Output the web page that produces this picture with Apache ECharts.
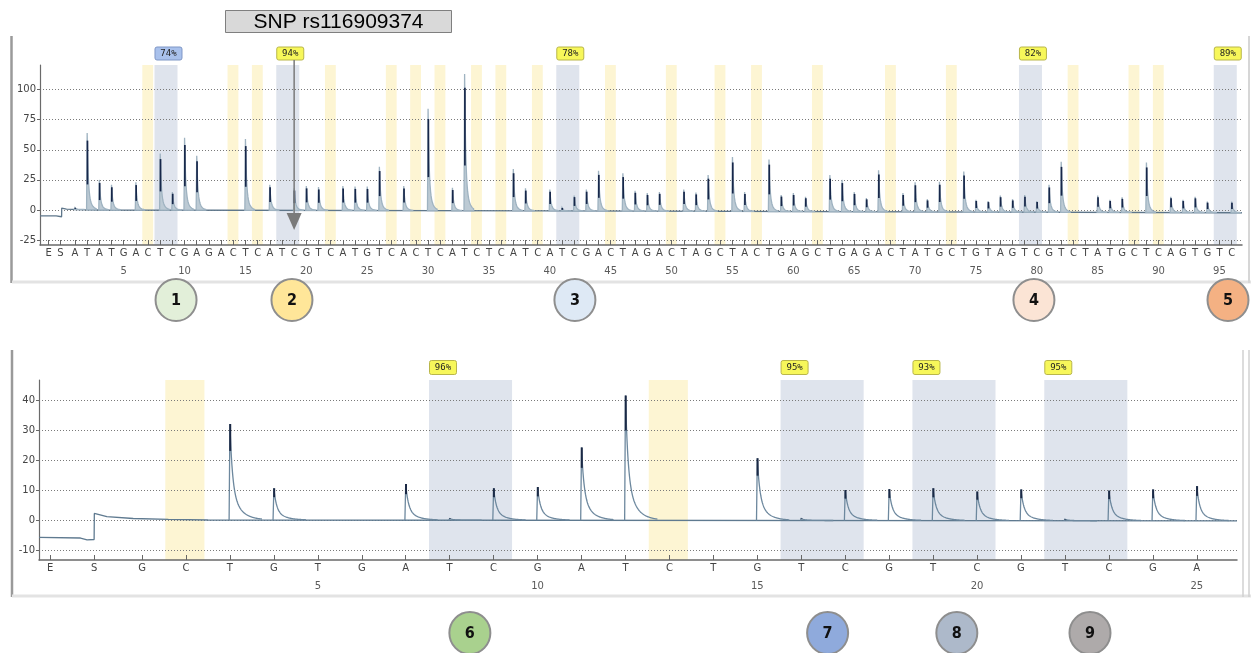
<!DOCTYPE html>
<html><head><meta charset="utf-8">
<script src="https://cdn.jsdelivr.net/npm/echarts@6/dist/echarts.min.js"></script>
<style>html,body{margin:0;padding:0;background:#fff}#c{width:1253px;height:653px}</style>
</head><body><div id="c"></div>
<script>
// ================= DATA =================
const snpTitle = 'SNP rs116909374';

// ---- top pyrogram ----
const topLetters = ['E','S',
 'A','T','A','T','G','A','C','T','C','G',
 'A','G','A','C','T','C','A','T','C','G',
 'T','C','A','T','G','T','C','A','C','T',
 'C','A','T','C','T','C','A','T','C','A',
 'T','C','G','A','C','T','A','G','A','C',
 'T','A','G','C','T','A','C','T','G','A',
 'G','C','T','G','A','G','A','C','T','A',
 'T','G','C','T','G','T','A','G','T','C',
 'G','T','C','T','A','T','G','C','T','C',
 'A','G','T','G','T','C'];
const topLeadPos = [-1.17, -0.2];          // axis positions of E and S
const topHeights = [
 2,64,25,21,0,23,0,47,15,60,
 45,0,0,0,59,0,21,0,18,20,
 19,0,20,19.5,19.5,36,0,20,0,84,
 0,18.5,113,0,0,0,34,18,0,17,
 2,12,17,32.5,0,30.5,16,14,15,0,
 17,14.5,29,0,44,15,0,42,12.5,14,
 11,0,29,25,15,10,33,0,14,23,
 9,23.5,0,32,8.5,7.5,12,9,12.5,7.5,
 21,40,0,0,12,8.5,10.5,0,39.5,0,
 11,8.5,11,7,0,7];
const topYellow = [7,14,16,22,27,29,31,34,36,39,45,50,54,57,62,68,73,83,88,90];
const topPairs = [[8,9],[18,19],[41,42],[79,80],[95,96]];
const topPairLabels = ['74%','94%','78%','82%','89%'];
const topPairTagKinds = ['blue','yellow','yellow','yellow','yellow'];
const topBaseline = [[-1.874,-4.8],[-0.55,-4.8],[-0.5,-5.6],[-0.1,-5.6],[-0.09,1.6],[0.3,0.7],[1.3,0.3],[3,0],[40,-0.8],[96.85,-2.3]];
const topYTicks = [-25,0,25,50,75,100];
const topXRange = [-1.874, 96.85];
const topYRange = [-29.07, 120.43];
const topArrowPos = 19;
const topArrowTip = -16.6;
const topCalloutNums = ['1','2','3','4','5'];
const topCalloutPos = [9.3,18.82,42.06,79.76,95.7];
const topCalloutColors = ['#e2efd9','#ffe699','#dee9f5','#fbe4d5','#f4b183'];

// ---- bottom pyrogram ----
const botLetters = ['E','S','G','C','T','G','T','G','A','T','C','G','A','T','C','T','G','T','C','G','T','C','G','T','C','G','A'];
const botLeadPos = [-1.09, -0.09];
const botHeights = [0,0,32,10.6,0,0,12,0.5,10.6,11, 24.2,41.5,0,0,20.6,0.5,10,10.3,10.6,9.5, 10.2,0.3,9.8,10.2,11.3];
const botYellow = [2,13];
const botPairs = [[8,9],[16,17],[19,20],[22,23]];
const botPairLabels = ['96%','95%','93%','95%'];
const botPairTagKinds = ['yellow','yellow','yellow','yellow'];
const botBaseline = [[-1.344,-5.8],[-0.4,-6.0],[-0.25,-6.6],[-0.09,-6.5],[-0.085,2.2],[0.2,1.1],[0.8,0.5],[1.6,0.2],[2.5,0],[25.915,-0.3]];
const botYTicks = [-10,0,10,20,30,40];
const botXRange = [-1.344, 25.915];
const botYRange = [-13.33, 46.67];
const botCalloutNums = ['6','7','8','9'];
const botCalloutPos = [8.46,16.6,19.54,22.57];
const botCalloutColors = ['#a9d18e','#8faadc','#adb9ca','#aeaaaa'];

// ================= HELPERS =================
const FONT = '"DejaVu Sans", Verdana, sans-serif';
function tickPositions(lead, n){ const a = lead.slice(); for (let i=1;i<=n;i++) a.push(i); return a; }
function baseAt(pts, p){
  for (let i=1;i<pts.length;i++){ if (p<=pts[i][0]){ const a=pts[i-1], b=pts[i]; return a[1]+(b[1]-a[1])*(p-a[0])/(b[0]-a[0]); } }
  return pts[pts.length-1][1];
}
function xFormatter(letters){
  return function(v){
    const k = Math.round(v);
    const l = letters[k+1];
    if (k>=5 && k%5===0) return '{l|'+l+'}\n{n|'+k+'}';
    return '{l|'+l+'}';
  };
}
function bandItems(yellow, pairs, labels, kinds){
  const items = yellow.map(p => ({s:p, e:p, kind:'y'}));
  pairs.forEach((pr,i) => items.push({s:pr[0], e:pr[1], kind:'b', label:labels[i], tag:kinds[i]}));
  return items;
}
function bandSeries(idx, items, tagOff, tagH){
  return {
    type:'custom', xAxisIndex:idx, yAxisIndex:idx, z:-1, silent:true, clip:false,
    data: items.map(b => [b.s, b.e]),
    encode:{x:[0,1]},
    renderItem: function(params, api){
      const b = items[params.dataIndex];
      const cs = params.coordSys;
      const x0 = api.coord([api.value(0)-0.47, 0])[0];
      const x1 = api.coord([api.value(1)+0.42, 0])[0];
      const ch = [{type:'rect', shape:{x:x0, y:cs.y, width:x1-x0, height:cs.height},
        style:{fill: b.kind==='y' ? '#fdf5d3' : '#dfe4ed'}}];
      if (b.label){
        const blue = b.tag==='blue';
        ch.push({type:'rect', shape:{x:x0+0.5, y:cs.y-tagOff, width:27, height:tagH, r:2},
          style:{fill: blue ? '#a9c1ec' : '#f7f75a', stroke: blue ? '#7f97c6' : '#b9b64a', lineWidth:1}});
        ch.push({type:'text', style:{text:b.label, x:x0+14, y:cs.y-tagOff+tagH/2+0.5,
          align:'center', verticalAlign:'middle', textAlign:'center', textVerticalAlign:'middle',
          font:'9px "DejaVu Sans Mono", monospace', fill:'#222'}});
      }
      return {type:'group', children:ch};
    }
  };
}
function peakSeries(idx, heights, baseline, cfg){
  return {
    type:'custom', xAxisIndex:idx, yAxisIndex:idx, z:3, silent:true,
    data: heights.map((h,i) => [i+1, h]),
    renderItem: function(params, api){
      const p = api.value(0), h = api.value(1);
      if (!(h > 0)) return null;
      const b = baseAt(baseline, p);
      const top = api.coord([p, h]);
      const base = api.coord([p, b]);
      const hp = base[1] - top[1];
      const pts = [[base[0]-cfg.rise, base[1]], [top[0], top[1]]];
      for (let t=0.5; t<=cfg.tail; t+=0.5){
        const f = cfg.a*Math.exp(-t/cfg.t1) + (1-cfg.a)*Math.exp(-t/cfg.t2);
        pts.push([top[0]+t, base[1]-hp*f]);
      }
      const ch = [];
      if (cfg.fill){
        const poly = pts.slice(); poly.push([top[0]+cfg.tail, base[1]]);
        ch.push({type:'polygon', shape:{points:poly}, style:{fill:cfg.fill, stroke:cfg.light, lineWidth:cfg.lw}});
      } else {
        ch.push({type:'polyline', shape:{points:pts}, style:{fill:null, stroke:cfg.light, lineWidth:cfg.lw}});
      }
      ch.push({type:'line', shape:{x1:top[0]+0.3, y1:base[1]-hp*cfg.d0, x2:top[0]+0.3, y2:base[1]-hp*cfg.d1},
        style:{stroke:cfg.dark, lineWidth:cfg.dw}});
      return {type:'group', children:ch};
    }
  };
}
function baselineSeries(idx, pts, color){
  return {type:'line', xAxisIndex:idx, yAxisIndex:idx, z:2, silent:true, data:pts, showSymbol:false,
    lineStyle:{color:color, width:1.3}};
}
function calloutSeries(idx, pos, nums, colors, dy){
  return {
    type:'custom', xAxisIndex:idx, yAxisIndex:idx, z:5, silent:true, clip:false,
    data: pos.map(p => [p, 0]),
    renderItem: function(params, api){
      const cs = params.coordSys;
      const x = api.coord([api.value(0), 0])[0];
      const cy = cs.y + cs.height + dy;
      const i = params.dataIndex;
      return {type:'group', children:[
        {type:'ellipse', shape:{cx:x, cy:cy, rx:20.5, ry:21}, style:{fill:colors[i], stroke:'#8e8e8e', lineWidth:2}},
        {type:'text', style:{text:nums[i], x:x, y:cy+1, align:'center', verticalAlign:'middle',
          textAlign:'center', textVerticalAlign:'middle',
          font:'bold 16px "Liberation Sans Narrow", "DejaVu Sans Condensed", sans-serif', fill:'#111'}}
      ]};
    }
  };
}
function xAxisCfg(idx, range, ticks, letters, margin, lh1, lh2){
  return {
    type:'value', gridIndex:idx, min:range[0], max:range[1],
    axisLine:{show:true, onZero:false, lineStyle:{color:'#6a6a6a', width:1.5}},
    axisTick:{show:true, inside:true, length:5, customValues:ticks, lineStyle:{color:'#666'}},
    axisLabel:{customValues:ticks, margin:margin, formatter:xFormatter(letters),
      rich:{l:{fontSize:10, color:'#444', fontFamily:FONT, lineHeight:lh1},
            n:{fontSize:10, color:'#5a5a5a', fontFamily:FONT, lineHeight:lh2}}},
    splitLine:{show:false}
  };
}
function yAxisCfg(idx, range, ticks){
  return {
    type:'value', gridIndex:idx, min:range[0], max:range[1],
    axisLine:{show:true, onZero:false, lineStyle:{color:'#6a6a6a', width:1.2}},
    axisTick:{show:true, length:3, customValues:ticks, lineStyle:{color:'#666'}},
    axisLabel:{customValues:ticks, margin:4, fontSize:10, color:'#454545', fontFamily:FONT},
    splitLine:{show:true, lineStyle:{color:'#7a7a7a', type:[1,2], width:1}}
  };
}

// ================= CHART =================
const topTicks = tickPositions(topLeadPos, topLetters.length-2);
const botTicks = tickPositions(botLeadPos, botLetters.length-2);

const topPeakCfg = {rise:0.6, t1:1.0, t2:3.0, a:0.7, tail:9, light:'#9fb3c1', fill:'#bccad4', lw:1.3, dark:'#17274a', dw:1.7, d0:0.33, d1:0.9};
const botPeakCfg = {rise:0.8, t1:2.5, t2:9, a:0.65, tail:32, light:'#6d889e', fill:null, lw:1.3, dark:'#1b2945', dw:2, d0:0.72, d1:1.0};

const chart = echarts.init(document.getElementById('c'), null, {renderer:'canvas'});
chart.setOption({
  animation:false,
  backgroundColor:'#ffffff',
  grid:[
    {left:40, top:65, width:1202, height:180, outerBoundsMode:'none', containLabel:false},
    {left:39, top:380, width:1198, height:180, outerBoundsMode:'none', containLabel:false}
  ],
  xAxis:[
    xAxisCfg(0, topXRange, topTicks, topLetters, 1, 14, 22),
    xAxisCfg(1, botXRange, botTicks, botLetters, 2, 12, 24)
  ],
  yAxis:[
    yAxisCfg(0, topYRange, topYTicks),
    yAxisCfg(1, botYRange, botYTicks)
  ],
  graphic:[
    {type:'line', shape:{x1:11.5,y1:36,x2:11.5,y2:283}, style:{stroke:'#9a9a9a', lineWidth:2.5}, silent:true},
    {type:'line', shape:{x1:12,y1:282,x2:1251,y2:282}, style:{stroke:'#e3e3e3', lineWidth:3}, silent:true},
    {type:'line', shape:{x1:1249,y1:36,x2:1249,y2:283}, style:{stroke:'#d6d6d6', lineWidth:2}, silent:true},
    {type:'line', shape:{x1:12,y1:350,x2:12,y2:597}, style:{stroke:'#9a9a9a', lineWidth:2.5}, silent:true},
    {type:'line', shape:{x1:12,y1:596,x2:1251,y2:596}, style:{stroke:'#e3e3e3', lineWidth:3}, silent:true},
    {type:'line', shape:{x1:1243,y1:350,x2:1243,y2:597}, style:{stroke:'#d0d0d0', lineWidth:1.5}, silent:true},
    {type:'line', shape:{x1:1249,y1:350,x2:1249,y2:597}, style:{stroke:'#d0d0d0', lineWidth:1.5}, silent:true},
    {type:'rect', shape:{x:225.5,y:10.5,width:226,height:22}, style:{fill:'#d9d9d9', stroke:'#7f7f7f', lineWidth:1}, silent:true},
    {type:'text', x:338.5, y:22, style:{text:snpTitle, align:'center', verticalAlign:'middle', textAlign:'center', textVerticalAlign:'middle',
      font:'21px "Liberation Sans", Arial, sans-serif', fill:'#000'}, silent:true}
  ],
  series:[
    bandSeries(0, bandItems(topYellow, topPairs, topPairLabels, topPairTagKinds), 18, 13),
    baselineSeries(0, topBaseline, '#5f778b'),
    peakSeries(0, topHeights, topBaseline, topPeakCfg),
    {
      type:'custom', xAxisIndex:0, yAxisIndex:0, z:6, silent:true, clip:false,
      data:[[topArrowPos, topArrowTip]],
      renderItem: function(params, api){
        const cs = params.coordSys;
        const tip = api.coord([api.value(0), api.value(1)]);
        return {type:'group', children:[
          {type:'line', shape:{x1:tip[0], y1:cs.y-5, x2:tip[0], y2:tip[1]-16}, style:{stroke:'#7a7a7a', lineWidth:1.5}},
          {type:'polygon', shape:{points:[[tip[0]-7.5, tip[1]-17],[tip[0]+7.5, tip[1]-17],[tip[0], tip[1]]]}, style:{fill:'#7a7a7a'}}
        ]};
      }
    },
    calloutSeries(0, topCalloutPos, topCalloutNums, topCalloutColors, 55),
    bandSeries(1, bandItems(botYellow, botPairs, botPairLabels, botPairTagKinds), 19.5, 14),
    baselineSeries(1, botBaseline, '#5f7a90'),
    peakSeries(1, botHeights, botBaseline, botPeakCfg),
    calloutSeries(1, botCalloutPos, botCalloutNums, botCalloutColors, 73)
  ]
});
</script>
</body></html>
